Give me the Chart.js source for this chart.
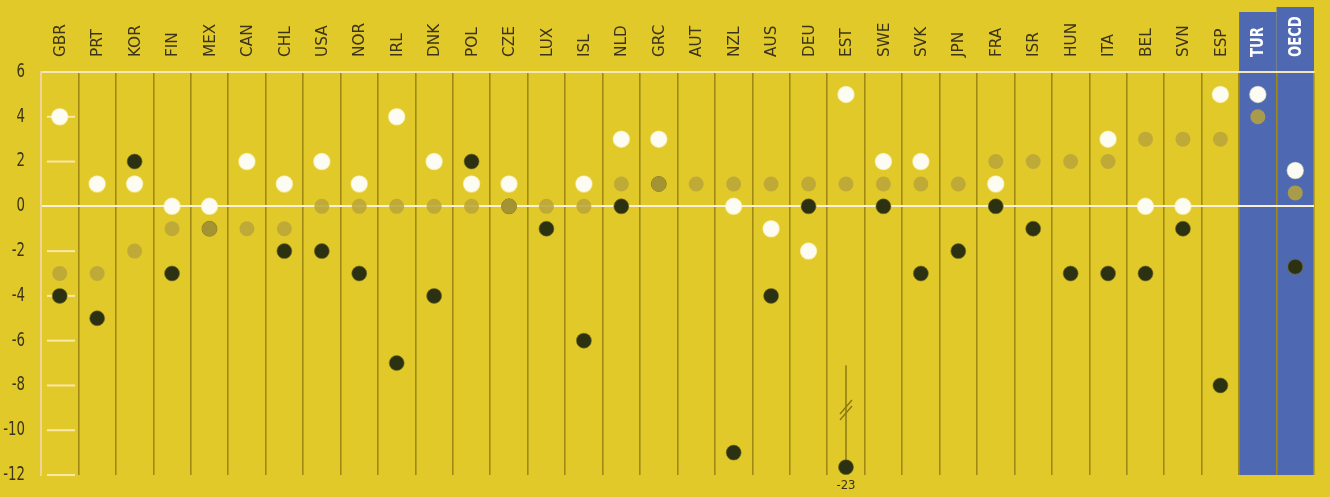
<!DOCTYPE html>
<html>
<head>
<meta charset="utf-8">
<script src="https://cdn.jsdelivr.net/npm/chart.js@4.4.1/dist/chart.umd.min.js"></script>
<style>
  html, body { margin: 0; padding: 0; background: #e2c92a; }
  #wrap { width: 1330px; height: 497px; position: relative; }
</style>
</head>
<body>
<div id="wrap"><canvas id="chart"></canvas></div>
<script>
const countries = ["GBR","PRT","KOR","FIN","MEX","CAN","CHL","USA","NOR","IRL","DNK","POL","CZE","LUX","ISL","NLD","GRC","AUT","NZL","AUS","DEU","EST","SWE","SVK","JPN","FRA","ISR","HUN","ITA","BEL","SVN","ESP","TUR","OECD"];

const whiteVals = [4, 1, 1, 0, 0, 2, 1, 2, 1, 4, 2, 1, 1, null, 1, 3, 3, null, 0, -1, -2, 5, 2, 2, null, 1, null, null, 3, 0, 0, 5, 5, 1.6];
const mutedVals = [-3, -3, -2, -1, -1, -1, -1, 0, 0, 0, 0, 0, 0, 0, 0, 1, 1, 1, 1, 1, 1, 1, 1, 1, 1, 2, 2, 2, 2, 3, 3, 3, 4, 0.6];
const darkVals  = [-4, -5, 2, -3, -1, null, -2, -2, -3, -7, -4, 2, 0, -1, -6, 0, 1, null, -11, -4, 0, -23, 0, -3, -2, 0, -1, -3, -3, -3, -1, -8, null, -2.7];

const yTicks = [-12, -10, -8, -6, -4, -2, 0, 2, 4, 6];
const yMin = -12, yMax = 6;
const breakShown = -11.65;   // where out-of-range values sit on the axis
const breakFrom = -7.1;

const darkShown = darkVals.map(v => (v !== null && v < yMin) ? breakShown : v);

const highlight = ["TUR", "OECD"];
const labelFont = '"DejaVu Sans Condensed", "Liberation Sans Narrow", sans-serif';
const textColor = "#3b3418";

const boxPlugin = {
  id: "boxes",
  beforeDraw(chart) {
    const { ctx, scales: { x }, chartArea } = chart;
    const half = (x.getPixelForValue(1) - x.getPixelForValue(0)) / 2;
    ctx.save();
    ctx.fillStyle = "#4e68b2";
    highlight.forEach((c, i) => {
      const idx = countries.indexOf(c);
      const cx = x.getPixelForValue(idx);
      const top = i === 0 ? 12 : 7;
      ctx.fillRect(cx - half, top, half * 2, chartArea.bottom - top);
    });
    ctx.restore();
  },
  beforeDatasetsDraw(chart) {
    const { ctx, scales: { x, y } } = chart;
    ctx.save();
    // short tick marks in the first column
    ctx.strokeStyle = "rgba(255,236,190,0.85)";
    ctx.lineWidth = 2;
    yTicks.forEach(t => {
      if (t === 0 || t === yMax) return;
      const py = y.getPixelForValue(t);
      ctx.beginPath();
      ctx.moveTo(47, py);
      ctx.lineTo(75, py);
      ctx.stroke();
    });
    // broken-axis marker for values below the scale
    darkVals.forEach((v, i) => {
      if (v === null || v >= yMin) return;
      const px = x.getPixelForValue(i);
      const y0 = y.getPixelForValue(breakFrom);
      const y1 = y.getPixelForValue(breakShown);
      ctx.strokeStyle = "#8c7a12";
      ctx.lineWidth = 1.5;
      ctx.beginPath();
      ctx.moveTo(px, y0);
      ctx.lineTo(px, y1);
      ctx.stroke();
      const ym = y.getPixelForValue(-9.1);
      [-3, 3].forEach(o => {
        ctx.beginPath();
        ctx.moveTo(px - 6, ym + 7 + o);
        ctx.lineTo(px + 6, ym - 7 + o);
        ctx.stroke();
      });
      ctx.fillStyle = textColor;
      ctx.font = '13px ' + labelFont;
      ctx.textAlign = "center";
      ctx.textBaseline = "top";
      ctx.fillText(String(v), px, y1 + 12);
    });
    ctx.restore();
  },
  afterDraw(chart) {
    const { ctx, scales: { x, y }, chartArea } = chart;
    ctx.save();
    // country labels, rotated, reading upwards
    countries.forEach((c, i) => {
      const hl = highlight.includes(c);
      ctx.save();
      ctx.translate(x.getPixelForValue(i), chartArea.top - 15);
      ctx.rotate(-Math.PI / 2);
      if (hl) ctx.scale(0.86, 1); else ctx.scale(1, 0.95);
      ctx.font = (hl ? "bold 17px " : "17px ") + labelFont;
      ctx.fillStyle = hl ? "#ffffff" : textColor;
      ctx.textAlign = "left";
      ctx.textBaseline = "middle";
      ctx.fillText(c, 0, 1);
      ctx.restore();
    });
    // value axis labels, condensed
    yTicks.forEach(t => {
      ctx.save();
      ctx.translate(25, y.getPixelForValue(t));
      ctx.scale(0.78, 1);
      ctx.font = "19px " + labelFont;
      ctx.fillStyle = textColor;
      ctx.textAlign = "right";
      ctx.textBaseline = "middle";
      ctx.fillText(String(t), 0, 0);
      ctx.restore();
    });
    ctx.restore();
  }
};

new Chart(document.getElementById("chart"), {
  type: "line",
  data: {
    labels: countries,
    datasets: [
      {
        label: "white",
        data: whiteVals,
        showLine: false,
        pointRadius: 8,
        pointBackgroundColor: "#fdfcf2",
        pointBorderColor: "rgba(255,250,220,0.6)",
        pointBorderWidth: 1.5,
        order: 1
      },
      {
        label: "muted",
        data: mutedVals,
        showLine: false,
        pointRadius: 7.5,
        pointBackgroundColor: "rgba(186,164,58,0.85)",
        pointBorderWidth: 0,
        order: 2
      },
      {
        label: "dark",
        data: darkShown,
        showLine: false,
        pointRadius: 7.5,
        pointBackgroundColor: "#2c3111",
        pointBorderColor: "rgba(120,110,30,0.6)",
        pointBorderWidth: 1,
        order: 3
      }
    ]
  },
  options: {
    responsive: true,
    maintainAspectRatio: false,
    animation: false,
    events: [],
    layout: { padding: { left: 0, right: 16, top: 0, bottom: 22 } },
    plugins: { legend: { display: false }, tooltip: { enabled: false } },
    scales: {
      x: {
        type: "category",
        position: "top",
        offset: true,
        afterFit: s => { s.height = 72; },
        grid: {
          offset: true,
          drawTicks: false,
          lineWidth: 1.6,
          color: c => (c.index === 0 || c.index >= countries.length) ? "rgba(0,0,0,0)" : "#a08a14"
        },
        border: { display: true, color: "#f6e7b8", width: 2 },
        ticks: { display: false, autoSkip: false }
      },
      y: {
        min: yMin,
        max: yMax,
        afterFit: s => { s.width = 41; },
        afterBuildTicks: s => { s.ticks = yTicks.map(v => ({ value: v })); },
        grid: {
          drawTicks: false,
          lineWidth: 2,
          color: c => c.tick && c.tick.value === 0 ? "#f8f0d8" : "rgba(0,0,0,0)"
        },
        border: { display: true, color: "#f0d49a", width: 2 },
        ticks: { display: false }
      }
    }
  },
  plugins: [boxPlugin]
});
</script>
</body>
</html>
